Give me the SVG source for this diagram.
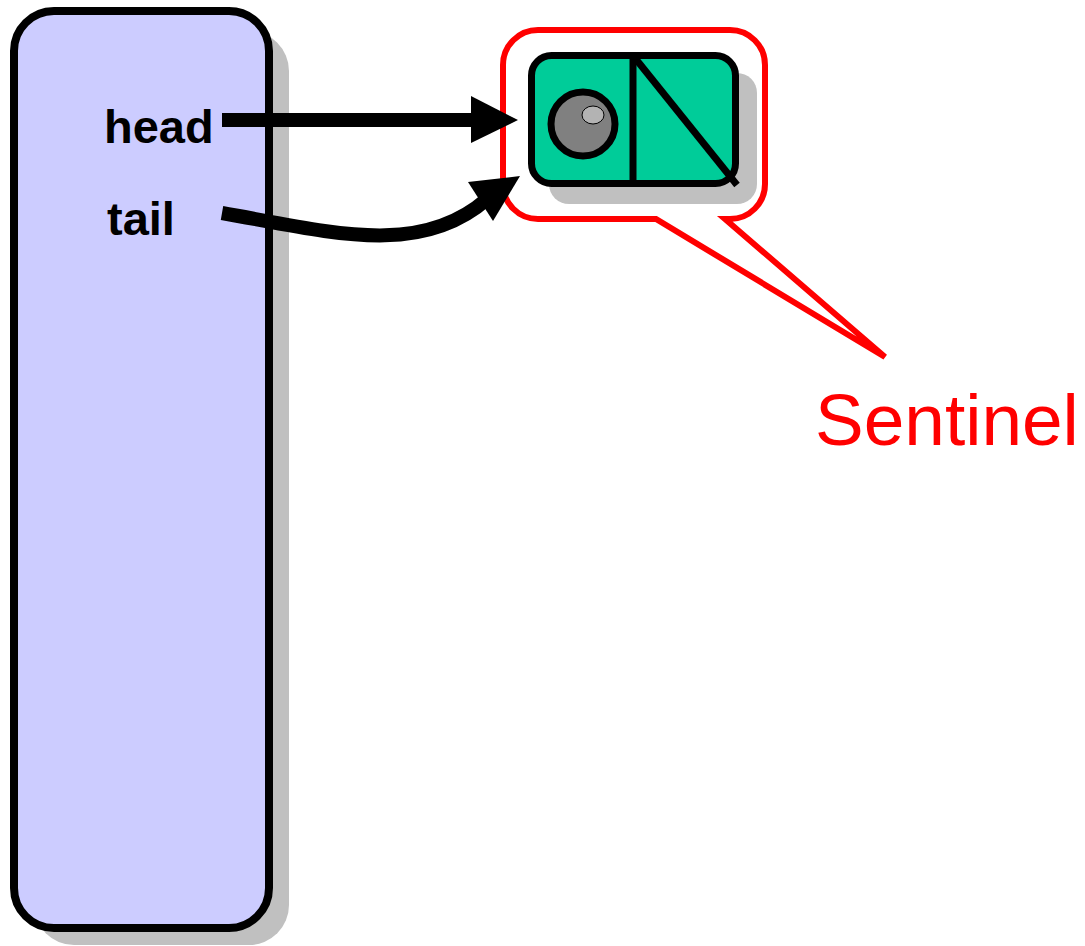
<svg xmlns="http://www.w3.org/2000/svg" width="1085" height="946" viewBox="0 0 1085 946">
  <style>
    .shadow { fill: #c0c0c0; }
    .label { font-family: "Liberation Sans", Arial, sans-serif; font-weight: bold; font-size: 47px; fill: #000; }
    .note { font-family: "Liberation Sans", Arial, sans-serif; font-size: 73px; fill: #ff0000; }
    .wire { fill: none; stroke: #000; stroke-width: 14; }
    .tip { fill: #000; }
  </style>
  <rect width="1085" height="946" fill="#ffffff"/>

  <!-- list object holding head/tail fields -->
  <g id="list">
    <rect class="shadow" x="34" y="31" width="255" height="914" rx="40"/>
    <rect x="14" y="11" width="255" height="917" rx="40" fill="#ccccff" stroke="#000" stroke-width="8"/>
    <text class="label" x="104" y="143">head</text>
    <text class="label" x="107" y="235">tail</text>
  </g>

  <!-- callout bubble around the sentinel -->
  <g id="callout">
    <path d="M 538,30 H 730 A 35 35 0 0 1 765 65 V 184 A 35 35 0 0 1 730 219 H 725 L 885 357 L 656 219 H 538 A 35 35 0 0 1 503 184 V 65 A 35 35 0 0 1 538 30 Z" fill="#ffffff" stroke="#ff0000" stroke-width="6" stroke-linejoin="miter"/>
    <text class="note" x="815" y="445">Sentinel</text>
  </g>

  <!-- sentinel node: data cell + null next pointer -->
  <g id="sentinel">
    <rect class="shadow" x="549" y="73" width="208" height="131" rx="20"/>
    <rect x="531.5" y="55.5" width="204" height="128" rx="20" fill="#00cc99" stroke="#000" stroke-width="7"/>
    <line x1="633" y1="57" x2="633" y2="183" stroke="#000" stroke-width="7"/>
    <line x1="635" y1="58" x2="737" y2="185" stroke="#000" stroke-width="7"/>
    <circle cx="583" cy="124" r="32" fill="#808080" stroke="#000" stroke-width="7"/>
    <ellipse cx="593" cy="115" rx="11" ry="9" fill="#b3b3b3" stroke="#000" stroke-width="1"/>
  </g>

  <!-- pointers -->
  <g id="connectors">
    <line class="wire" x1="222" y1="120" x2="476" y2="120"/>
    <polygon class="tip" points="471,96 518,120 471,143"/>
    <path class="wire" d="M 222,213 C 330,232 420,258 487,199"/>
    <polygon class="tip" points="468,182 520,176 493,221"/>
  </g>
</svg>
